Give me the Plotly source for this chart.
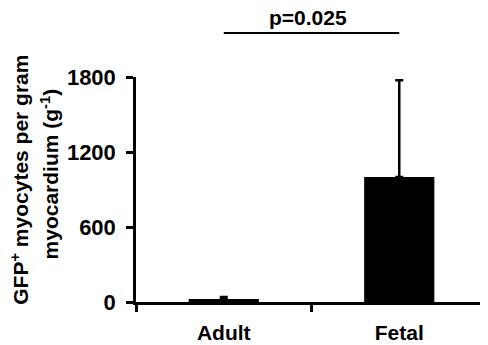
import plotly.graph_objects as go

categories = ["Adult", "Fetal"]
means = [25, 1000]
err_plus = [15, 775]
err_minus = [0, 0]
y_ticks = [0, 600, 1200, 1800]
p_label = "p=0.025"
y_title_lines = ["GFP<sup>+</sup> myocytes per gram", "myocardium (g<sup>-1</sup>)"]

FONT = "Liberation Sans, Arial, sans-serif"

fig = go.Figure()
fig.add_trace(go.Bar(
    x=categories, y=means, width=0.4,
    marker=dict(color="black", line=dict(width=0)),
    error_y=dict(type="data", symmetric=False, array=err_plus, arrayminus=err_minus,
                 color="black", thickness=2.5, width=4),
))

# page body adds an 8px offset, so the figure is 8px smaller
fig.update_layout(
    width=480, height=337,
    margin=dict(l=128, r=1, t=69, b=43),
    paper_bgcolor="white", plot_bgcolor="white",
    showlegend=False,
    font=dict(family=FONT, color="black", size=20),
)
fig.update_xaxes(
    range=[-0.5, 1.5], showline=True, linecolor="black", linewidth=2.5,
    ticks="outside", tickson="boundaries", ticklen=7, tickwidth=2.5, tickcolor="black",
    ticklabelstandoff=10,
    tickfont=dict(family=FONT, size=21, color="black", weight="bold"),
    showgrid=False, zeroline=False,
)
fig.update_yaxes(
    range=[0, 1800], tickvals=y_ticks, ticktext=[str(v) for v in y_ticks],
    showline=True, linecolor="black", linewidth=2.5,
    ticks="outside", ticklen=7, tickwidth=2.5, tickcolor="black",
    ticklabelstandoff=6,
    tickfont=dict(family=FONT, size=22, color="black", weight="bold"),
    showgrid=False, zeroline=False,
)

# y axis title as two rotated annotations
for txt, xp, yp in zip(y_title_lines, [-0.333, -0.245], [0.544, 0.567]):
    fig.add_annotation(
        text=txt, xref="paper", yref="paper", x=xp, y=yp,
        xanchor="center", yanchor="middle", textangle=-90, showarrow=False,
        font=dict(family=FONT, size=21, color="black", weight="bold"),
    )

# significance bracket
fig.add_shape(type="line", xref="x", yref="paper", x0=categories[0], x1=categories[1],
              y0=1.196, y1=1.196, line=dict(color="black", width=2))
fig.add_annotation(
    text=p_label, xref="x", yref="paper", x=0.48, y=1.205,
    xanchor="center", yanchor="bottom", showarrow=False,
    font=dict(family=FONT, size=21, color="black", weight="bold"),
)

fig.write_html("out.html")
